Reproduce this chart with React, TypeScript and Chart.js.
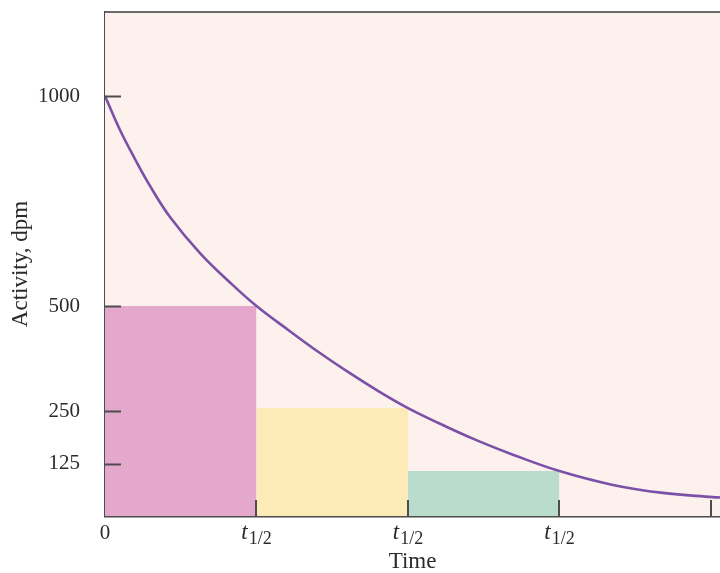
import React, { useEffect, useRef } from "react";
import { Chart, registerables } from "chart.js";

Chart.register(...registerables);

// Time in half-lives, activity in dpm
const curveTime = [0, 0.099, 0.198, 0.297, 0.429, 0.627, 0.825, 1.0, 1.221, 1.419, 1.617, 1.815, 2.0, 2.257, 2.475, 2.693, 3.0, 3.353, 3.683, 4.013, 4.06];
const curveActivity = [1000, 919, 850, 786, 712, 626, 556, 500, 440, 388, 340, 295, 257, 212, 177, 146, 107, 74, 55, 45, 44];

const barStarts = [0, 1, 2];
const barEnds = [1, 2, 3];
const barHeights = [500, 257, 107];
const barColors = ["#e3a8cb", "#fdebb7", "#b9dccc"];

const yTickValues = [125, 250, 500, 1000];
const yTickLabels = ["125", "250", "500", "1000"];
const xTickValues = [1, 2, 3, 4];
const xTickLabelMain = "t";
const xTickLabelSub = "1/2";

const SERIF = "'Liberation Serif', 'Times New Roman', serif";
const AXIS_COLOR = "#4d4d4d";

export default function App() {
  const ref = useRef<HTMLCanvasElement | null>(null);

  useEffect(() => {
    document.body.style.margin = "0";
    const canvas = ref.current;
    if (!canvas) return;

    const decorPlugin = {
      id: "decor",
      beforeDatasetsDraw(chart: any) {
        const { ctx, chartArea } = chart;
        ctx.save();
        ctx.fillStyle = "#fcf1ec";
        ctx.fillRect(chartArea.left, chartArea.top, chartArea.right - chartArea.left, chartArea.bottom - chartArea.top);
        ctx.restore();
      },
      afterDatasetsDraw(chart: any) {
        const { ctx, chartArea, scales } = chart;
        const xs = scales.x;
        const ys = scales.y;
        ctx.save();
        ctx.strokeStyle = AXIS_COLOR;
        ctx.lineWidth = 2;
        // inward ticks on y axis
        yTickValues.forEach((v) => {
          const py = Math.round(ys.getPixelForValue(v)) + 0.5;
          ctx.beginPath();
          ctx.moveTo(chartArea.left, py);
          ctx.lineTo(chartArea.left + 16, py);
          ctx.stroke();
        });
        // inward ticks on x axis
        xTickValues.forEach((v) => {
          const px = Math.round(xs.getPixelForValue(v));
          ctx.beginPath();
          ctx.moveTo(px, chartArea.bottom);
          ctx.lineTo(px, chartArea.bottom - 16);
          ctx.stroke();
        });
        // top border
        ctx.lineWidth = 1.5;
        ctx.strokeStyle = "#3d3d3d";
        ctx.beginPath();
        ctx.moveTo(chartArea.left, chartArea.top);
        ctx.lineTo(chartArea.right, chartArea.top);
        ctx.stroke();

        // x tick labels
        ctx.fillStyle = "#2b2b2b";
        ctx.textBaseline = "alphabetic";
        ctx.textAlign = "left";
        const mainFont = `italic 23px ${SERIF}`;
        const subFont = `18px ${SERIF}`;
        xTickValues.slice(0, 3).forEach((v) => {
          const px = xs.getPixelForValue(v);
          ctx.font = mainFont;
          const w1 = ctx.measureText(xTickLabelMain).width;
          ctx.font = subFont;
          const w2 = ctx.measureText(xTickLabelSub).width;
          const start = px - (w1 + 1 + w2) / 2;
          ctx.font = mainFont;
          ctx.fillText(xTickLabelMain, start, 539);
          ctx.font = subFont;
          ctx.fillText(xTickLabelSub, start + w1 + 1, 544);
        });
        ctx.font = `21px ${SERIF}`;
        ctx.textAlign = "center";
        ctx.fillText("0", xs.getPixelForValue(0), 539);
        ctx.restore();
      },
    };

    const barDatasets = barStarts.map((s, i) => ({
      type: "line" as const,
      data: [
        { x: s, y: barHeights[i] },
        { x: barEnds[i], y: barHeights[i] },
      ],
      borderWidth: 0,
      borderColor: "rgba(0,0,0,0)",
      backgroundColor: barColors[i],
      fill: "origin",
      pointRadius: 0,
      tension: 0,
      order: 2,
    }));

    const chart = new Chart(canvas, {
      type: "line",
      data: {
        datasets: [
          {
            data: curveTime.map((t, i) => ({ x: t, y: curveActivity[i] })),
            borderColor: "#7b50a8",
            borderWidth: 2.6,
            pointRadius: 0,
            fill: false,
            tension: 0.4,
            order: 0,
          },
          ...barDatasets,
        ] as any,
      },
      plugins: [decorPlugin],
      options: {
        animation: false,
        responsive: false,
        layout: { padding: { top: 12, right: 0, left: 0, bottom: 0 } },
        plugins: {
          legend: { display: false },
          tooltip: { enabled: false },
          filler: { propagate: false },
        },
        scales: {
          x: {
            type: "linear",
            min: 0,
            max: 4.06,
            grid: { display: false, drawTicks: false },
            border: { display: true, color: AXIS_COLOR, width: 2.5 },
            ticks: { display: false },
            title: {
              display: true,
              text: "Time",
              color: "#2b2b2b",
              font: { family: SERIF, size: 23, lineHeight: 1 },
              padding: { top: 0, bottom: 0 },
            },
            afterFit(scale: any) {
              scale.height = 57;
              scale.paddingLeft = 0;
              scale.paddingRight = 0;
            },
          },
          y: {
            type: "linear",
            min: 0,
            max: 1200,
            grid: { display: false, drawTicks: false },
            border: { display: true, color: AXIS_COLOR, width: 2 },
            afterBuildTicks(scale: any) {
              scale.ticks = yTickValues.map((v) => ({ value: v }));
            },
            ticks: {
              padding: 25,
              color: "#2b2b2b",
              font: { family: SERIF, size: 21 },
              callback: (value: any) => {
                const idx = yTickValues.indexOf(Number(value));
                return idx >= 0 ? yTickLabels[idx] : "";
              },
            },
            title: {
              display: true,
              text: "Activity, dpm",
              color: "#2b2b2b",
              font: { family: SERIF, size: 23, lineHeight: 1 },
              padding: { top: 9, bottom: 0 },
            },
            afterFit(scale: any) {
              scale.width = 105;
              scale.paddingTop = 0;
              scale.paddingBottom = 0;
            },
          },
        },
      } as any,
    });

    return () => chart.destroy();
  }, []);

  return <canvas ref={ref} width={720} height={573} style={{ display: "block" }} />;
}
